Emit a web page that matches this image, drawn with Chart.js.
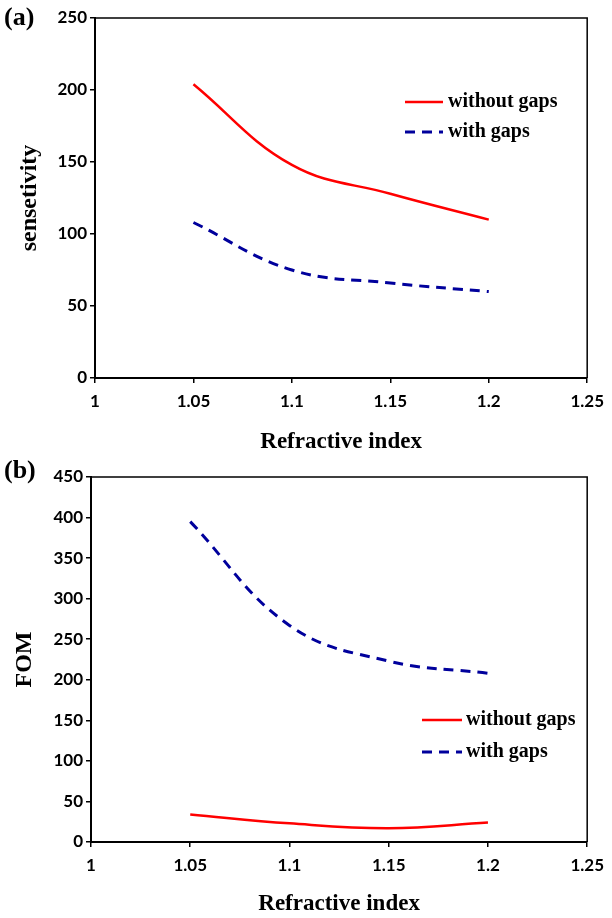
<!DOCTYPE html>
<html><head><meta charset="utf-8">
<script src="https://cdn.jsdelivr.net/npm/chart.js@4.4.1/dist/chart.umd.min.js"></script>
<style>
html,body{margin:0;padding:0;background:#fff;}
body{width:612px;height:918px;position:relative;overflow:hidden;}
.box{position:absolute;left:0;width:612px;}
.panel{position:absolute;font-family:"Liberation Serif","Times New Roman",serif;font-weight:bold;font-size:26px;line-height:30px;color:#000;}
</style></head><body>
<div class="box" style="top:0;height:460px"><canvas id="cA"></canvas></div>
<div class="box" style="top:460px;height:458px"><canvas id="cB"></canvas></div>
<div class="panel" style="left:4px;top:2px">(a)</div>
<div class="panel" style="left:4px;top:455px">(b)</div>
<script>
// ---- data ----
const xValues = [1.05, 1.1, 1.15, 1.2];
const sensWithout = [204, 148, 128, 110];
const sensWith = [108, 75, 66, 60];
const fomWithout = [34, 23, 17, 24];
const fomWith = [395, 267, 223, 208];
const xTickLabels = ['1', '1.05', '1.1', '1.15', '1.2', '1.25'];
const seriesLabels = ['without gaps', 'with gaps'];
const xTitle = 'Refractive index';

Chart.defaults.color = '#000';
const RED = '#FF0000', BLUE = '#00009C';
const serif = '"Liberation Serif","Times New Roman",serif';

function pts(arr){ return xValues.map((x,i)=>({x:x, y:arr[i]})); }

const framePlugin = {
  id:'frame',
  afterDraw(chart){
    const {ctx, chartArea:a} = chart;
    ctx.save();
    ctx.strokeStyle='#000'; ctx.lineWidth=1.5;
    ctx.beginPath();
    ctx.moveTo(a.left, a.top); ctx.lineTo(a.right, a.top); ctx.lineTo(a.right, a.bottom);
    ctx.stroke();
    ctx.restore();
  }
};
const legendPlugin = {
  id:'inlegend',
  afterDraw(chart, args, o){
    const ctx = chart.ctx;
    ctx.save();
    ctx.font = 'bold 20px ' + serif;
    ctx.textBaseline='middle'; ctx.textAlign='left';
    chart.data.datasets.forEach((ds,i)=>{
      const y = o.y + i*o.gap;
      ctx.strokeStyle = ds.borderColor; ctx.lineWidth = ds.borderWidth;
      ctx.setLineDash(ds.borderDash || []);
      ctx.beginPath(); ctx.moveTo(o.x, y); ctx.lineTo(o.x + o.len, y); ctx.stroke();
      ctx.setLineDash([]);
      ctx.fillStyle='#000';
      ctx.fillText(ds.label, o.x + o.len + o.tx, y);
    });
    ctx.restore();
  }
};

function makeChart(id, redArr, blueArr, yMax, yTitle, lay, leg){
  return new Chart(document.getElementById(id), {
    type:'line',
    data:{datasets:[
      {label:seriesLabels[0], data:pts(redArr), borderColor:RED, borderWidth:2.5, pointRadius:0, tension:0.4, fill:false},
      {label:seriesLabels[1], data:pts(blueArr), borderColor:BLUE, borderWidth:3, borderDash:[10,7], pointRadius:0, tension:0.4, fill:false}
    ]},
    options:{
      responsive:true, maintainAspectRatio:false, animation:false,
      layout:{padding:{left:0, top:lay.top, right:lay.right, bottom:0}},
      plugins:{legend:{display:false}, tooltip:{enabled:false}, inlegend:leg},
      scales:{
        x:{type:'linear', min:1, max:1.25,
          ticks:{stepSize:0.05, padding:lay.xpad, font:{family:'Lato', weight:'bold', size:17},
            callback:(v,i)=>xTickLabels[i], maxRotation:0, autoSkip:false},
          grid:{drawOnChartArea:false, drawTicks:true, tickLength:5, color:'#000', lineWidth:1.5},
          border:{color:'#000', width:2},
          title:{display:true, text:xTitle, font:{family:serif, weight:'bold', size:23, lineHeight:1.2}, padding:{top:0,bottom:lay.xtb}},
          afterFit:(s)=>{s.height = lay.xh;}
        },
        y:{min:0, max:yMax,
          ticks:{stepSize:50, padding:3, font:{family:'Lato', weight:'bold', size:17}},
          grid:{drawOnChartArea:false, drawTicks:true, tickLength:5, color:'#000', lineWidth:1.5},
          border:{color:'#000', width:2},
          title:{display:true, text:yTitle, font:{family:serif, weight:'bold', size:24, lineHeight:1.2}, padding:{top:lay.ytp,bottom:0}},
          afterFit:(s)=>{s.width = lay.yw;}
        }
      }
    },
    plugins:[framePlugin, legendPlugin]
  });
}

makeChart('cA', sensWithout, sensWith, 250, 'sensetivity',
  {top:18, right:24, xh:82, yw:95, xpad:8, xtb:4, ytp:15},
  {x:405, y:102, gap:30, len:38, tx:5});
makeChart('cB', fomWithout, fomWith, 450, 'FOM',
  {top:17, right:21, xh:76, yw:91, xpad:8, xtb:0, ytp:10},
  {x:422, y:260, gap:32, len:40, tx:4});
</script>
</body></html>
